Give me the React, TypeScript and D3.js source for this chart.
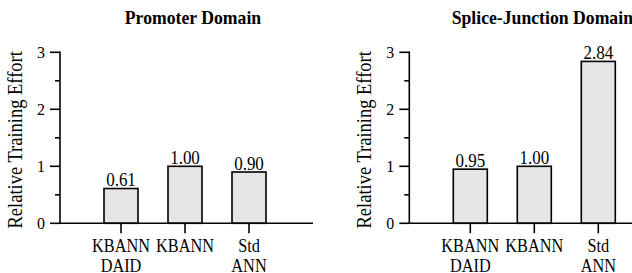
import React from "react";
import * as d3 from "d3";

const categories: string[][] = [["KBANN", "DAID"], ["KBANN"], ["Std", "ANN"]];
const promoterValues: number[] = [0.61, 1.0, 0.9];
const spliceValues: number[] = [0.95, 1.0, 2.84];
const majorTicks: number[] = [0, 1, 2, 3];
const minorTicks: number[] = [0.5, 1.5, 2.5];
const panelTitles: string[] = ["Promoter Domain", "Splice-Junction Domain"];
const yAxisLabel = "Relative Training Effort";

const FONT = "Times New Roman, Liberation Serif, Times, serif";
const SY = 1.1;

function T({
  x,
  y,
  size,
  anchor = "middle",
  bold = false,
  rotate = 0,
  children,
}: {
  x: number;
  y: number;
  size: number;
  anchor?: string;
  bold?: boolean;
  rotate?: number;
  children: React.ReactNode;
}) {
  const tr = rotate
    ? `translate(${x},${y}) rotate(${rotate}) scale(1,${SY})`
    : `translate(${x},${y}) scale(1,${SY})`;
  return (
    <text
      transform={tr}
      textAnchor={anchor as any}
      style={{ fontFamily: FONT }}
      fontWeight={bold ? "bold" : "normal"}
      fontSize={size}
      fill="#000"
    >
      {children}
    </text>
  );
}

function Panel({ title, values, offsetX }: { title: string; values: number[]; offsetX: number }) {
  const axisX = 60;
  const axisEnd = 313;
  const y = d3.scaleLinear().domain([0, 3]).range([223.3, 52.3]);
  const x = d3.scaleBand<number>().domain(values.map((_, i) => i)).range([89, 281]).padding(0);
  const barW = 34;
  const y0 = y(0);
  return (
    <g transform={`translate(${offsetX},0)`}>
      <T x={193} y={24.3} size={17.7} bold>
        {title}
      </T>
      <T x={22} y={(y(0) + y(3)) / 2 + 2} size={18.5} rotate={-90}>
        {yAxisLabel}
      </T>
      <line x1={axisX} x2={axisX} y1={y(3) - 0.8} y2={y0} stroke="#000" strokeWidth={1.6} />
      {majorTicks.map((t) => (
        <g key={"M" + t}>
          <line x1={axisX - 10} x2={axisX} y1={y(t)} y2={y(t)} stroke="#000" strokeWidth={1.6} />
          <T x={axisX - 15} y={y(t) + 5.8} size={16} anchor="end">
            {t}
          </T>
        </g>
      ))}
      {minorTicks.map((t) => (
        <line key={"m" + t} x1={axisX - 5} x2={axisX} y1={y(t)} y2={y(t)} stroke="#000" strokeWidth={1.6} />
      ))}
      {values.map((v, i) => {
        const cx = (x(i) as number) + x.bandwidth() / 2;
        return (
          <g key={i}>
            <rect
              x={cx - barW / 2}
              y={y(v)}
              width={barW}
              height={y0 - y(v)}
              fill="#e6e6e6"
              stroke="#000"
              strokeWidth={1.6}
            />
            <T x={cx} y={y(v) - 2.3} size={17}>
              {v.toFixed(2)}
            </T>
            <line x1={cx} x2={cx} y1={y0} y2={y0 + 10} stroke="#000" strokeWidth={1.6} />
            {categories[i].map((line, j) => (
              <T key={j} x={cx} y={252 + j * 20} size={16.3}>
                {line}
              </T>
            ))}
          </g>
        );
      })}
      <line x1={axisX} x2={axisEnd} y1={y0} y2={y0} stroke="#000" strokeWidth={1.6} />
    </g>
  );
}

export default function App() {
  return (
    <svg
      width={632}
      height={273}
      style={{ position: "absolute", left: 0, top: 0, background: "#fff" }}
    >
      <rect width={632} height={273} fill="#fff" />
      <Panel title={panelTitles[0]} values={promoterValues} offsetX={0} />
      <Panel title={panelTitles[1]} values={spliceValues} offsetX={349.3} />
    </svg>
  );
}
